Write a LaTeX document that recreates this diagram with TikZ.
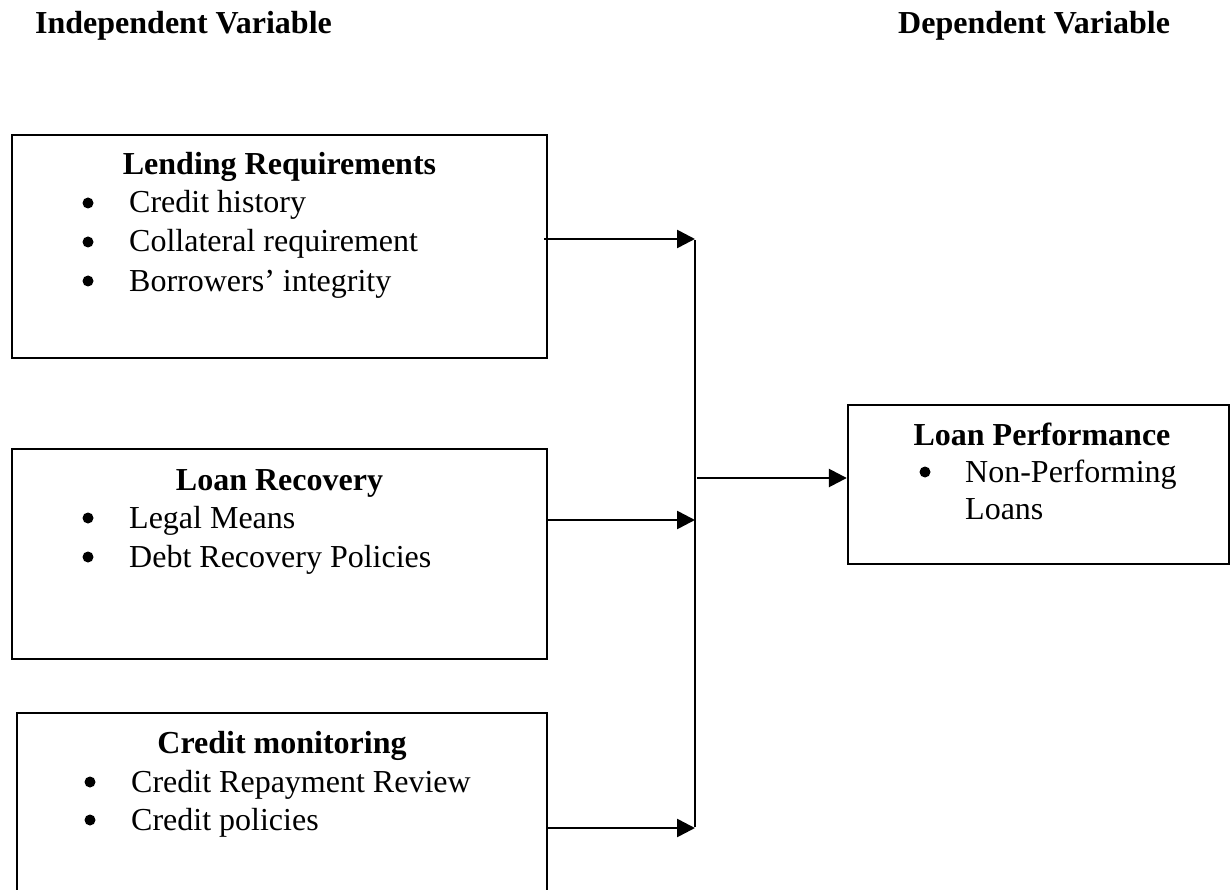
\documentclass[tikz,border=0pt]{standalone}
\usepackage{fontspec}
\setmainfont{Liberation Serif}
\usetikzlibrary{arrows.meta}
\begin{document}
\begin{tikzpicture}[x=1pt,y=-1pt,
  box/.style={draw=black,line width=2.4pt,rectangle,inner sep=0pt},
  ttl/.style={anchor=base,inner sep=0pt,font=\fontsize{32}{38}\selectfont\bfseries},
  hdr/.style={anchor=base west,inner sep=0pt,font=\fontsize{32}{38}\selectfont\bfseries},
  itm/.style={anchor=base west,inner sep=0pt,font=\fontsize{32}{38}\selectfont},
  bul/.style={circle,fill=black,inner sep=0pt,minimum size=11pt,yshift=10pt},
  arr/.style={line width=2.6pt,-{Triangle[length=18pt,width=18pt]}},
  ln/.style={line width=2.6pt}]
\useasboundingbox (0,0) rectangle (1230,890);
\clip (0,0) rectangle (1230,890);
\fill[white] (0,0) rectangle (1230,890);

\node[hdr] (hI) at (35,34) {Independent Variable};
\node[hdr] (hD) at (898,34) {Dependent Variable};

% boxes
\node[box,minimum width=535pt,minimum height=223pt] (b1) at (279.5,246.5) {};
\node[box,minimum width=535pt,minimum height=210pt] (b2) at (279.5,554) {};
\node[box,minimum width=530pt,minimum height=247pt] (b3) at (282,836.5) {};
\node[box,minimum width=381pt,minimum height=159pt] (b4) at (1038.5,484.5) {};

% box 1 text
\node[ttl] (t1) at (279.5,175) {Lending Requirements};
\node[bul] (u11) at (88,213) {};
\node[itm] (i11) at (129,213) {Credit history};
\node[bul] (u12) at (88,252) {};
\node[itm] (i12) at (129,252) {Collateral requirement};
\node[bul] (u13) at (88,291) {};
\node[itm] (i13) at (129,291) {Borrowers’ integrity};

% box 2 text
\node[ttl] (t2) at (279.5,490) {Loan Recovery};
\node[bul] (u21) at (88,528) {};
\node[itm] (i21) at (129,528) {Legal Means};
\node[bul] (u22) at (88,567) {};
\node[itm] (i22) at (129,567) {Debt Recovery Policies};

% box 3 text
\node[ttl] (t3) at (282,753) {Credit monitoring};
\node[bul] (u31) at (90,792) {};
\node[itm] (i31) at (131,792) {Credit Repayment Review};
\node[bul] (u32) at (90,830) {};
\node[itm] (i32) at (131,830) {Credit policies};

% box 4 text
\node[ttl] (t4) at (1042,445) {Loan Performance};
\node[bul] (u41) at (925,482) {};
\node[itm] (i41) at (965,482) {Non-Performing};
\node[itm] (i42) at (965,519) {Loans};

% connectors
\coordinate (j1) at (695,239);
\coordinate (j2) at (695,520);
\coordinate (j3) at (695,828);
\coordinate (jo) at (697,478);
\draw[arr] ([xshift=-4pt]b1.east |- j1) -- (j1);
\draw[arr] (b2.east |- j2) -- (j2);
\draw[arr] (b3.east |- j3) -- (j3);
\draw[ln] ([yshift=-1pt]j1) -- ([yshift=1pt]j3);
\draw[arr] (jo) -- (b4.west |- jo);
\end{tikzpicture}
\end{document}
